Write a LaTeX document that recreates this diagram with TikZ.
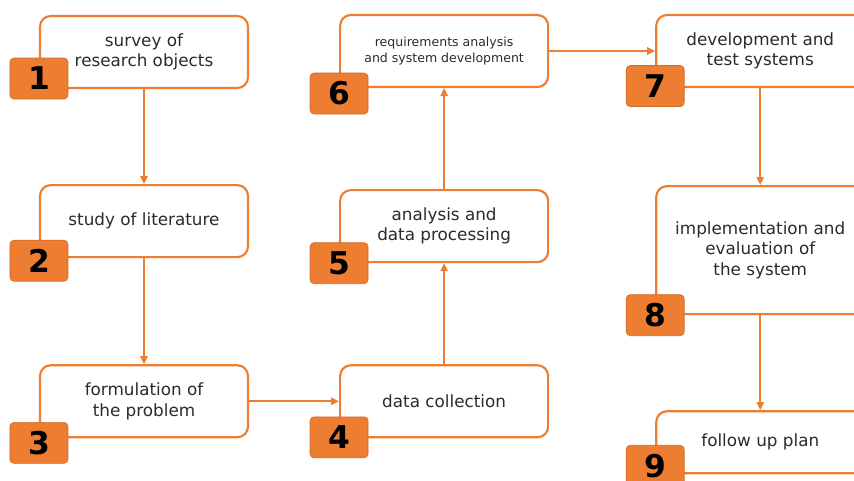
\documentclass[tikz,border=0pt]{standalone}
\usepackage{fontspec}
\setmainfont{DejaVu Sans}
\usetikzlibrary{positioning,arrows.meta}

\definecolor{stepor}{HTML}{ED7D31}
\definecolor{stepedge}{HTML}{D36A28}
\definecolor{steptext}{HTML}{2B2B2B}

\tikzset{
  stepbox/.style={draw=stepor, line width=1.6pt, rounded corners=8pt, fill=white,
    minimum width=156pt, minimum height=54pt, align=center, text=steptext,
    font=\fontsize{12.6}{15.2}\selectfont},
  badge/.style={draw=stepedge, line width=0.5pt, fill=stepor, rounded corners=3pt,
    minimum width=43.5pt, minimum height=30.75pt, inner sep=0pt,
    font=\fontsize{23.5}{23.5}\selectfont\bfseries},
  flow/.style={draw=stepor, line width=1.2pt, -{Triangle[length=6pt,width=5.5pt]}}
}

\begin{document}
\begin{tikzpicture}[x=0.75pt, y=-0.75pt]
        \useasboundingbox (0,0) rectangle (854,480);

        % Steps
        \node (s1) [stepbox] at (144,52) {survey of\\research objects};
        \node (s2) [stepbox, below=71.25pt of s1] {study of literature};
        \node (s3) [stepbox, below=79.5pt of s2] {formulation of\\the problem};
        \node (s4) [stepbox, right=67.5pt of s3] {data collection};
        \node (s5) [stepbox, above=75.75pt of s4] {analysis and\\data processing};
        \node (s6) [stepbox, above=75.75pt of s5, font=\fontsize{9.4}{11.5}\selectfont] {requirements analysis\\and system development};
        \node (s7) [stepbox, right=79.5pt of s6] {development and\\test systems};
        \node (s8) [stepbox, below=72.75pt of s7, minimum height=96pt] {implementation and\\evaluation of\\the system};
        \node (s9) [stepbox, below=71.25pt of s8, minimum height=46.5pt] {follow up plan};

        % Numbers
        \node (n1) [badge] at ([yshift=7.9pt]s1.south west) {1};
        \node (n2) [badge] at ([yshift=-1.9pt]s2.south west) {2};
        \node (n3) [badge] at ([yshift=-3.4pt]s3.south west) {3};
        \node (n4) [badge] at ([yshift=0.75pt]s4.south west) {4};
        \node (n5) [badge] at (s5.south west) {5};
        \node (n6) [badge] at ([yshift=-4.1pt]s6.south west) {6};
        \node (n7) [badge] at ([yshift=1.5pt]s7.south west) {7};
        \node (n8) [badge] at (s8.south west) {8};
        \node (n9) [badge] at ([yshift=6.4pt]s9.south west) {9};

        % Edges
        \draw[flow] (s1) -- (s2);
        \draw[flow] (s2) -- (s3);
        \draw[flow] (s3) -- (s4);
        \draw[flow] (s4) -- (s5);
        \draw[flow] (s5) -- (s6);
        \draw[flow] (s6) -- (s7);
        \draw[flow] (s7) -- (s8);
        \draw[flow] (s8) -- (s9);
\end{tikzpicture}
\end{document}
